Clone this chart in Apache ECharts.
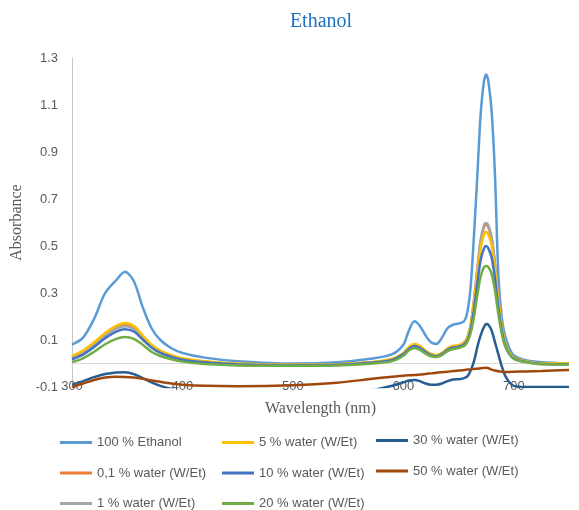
<!DOCTYPE html>
<html>
<head>
<meta charset="utf-8">
<script src="https://cdn.jsdelivr.net/npm/echarts@6/dist/echarts.min.js"></script>
<style>
  html, body { margin: 0; padding: 0; background: #fff; }
  #chart { width: 579px; height: 510px; }
</style>
</head>
<body>
<div id="chart"></div>
<script>
// Wavelength grid (nm), shared by every spectrum
const wavelengths = [300, 310, 320, 330, 340, 348, 356, 364, 372, 380, 390, 400, 420, 450, 500, 540, 570, 590, 600, 605, 610, 615, 620, 625, 630, 635, 640, 645, 650, 655, 658, 661, 664, 667, 670, 673, 675, 677, 680, 683, 686, 689, 692, 696, 700, 710, 725, 750];

// Absorbance spectra
const ethanol100 = [0.08, 0.11, 0.19, 0.30, 0.355, 0.39, 0.35, 0.24, 0.15, 0.10, 0.065, 0.045, 0.025, 0.01, 0.0, 0.005, 0.02, 0.04, 0.08, 0.14, 0.18, 0.16, 0.12, 0.09, 0.083, 0.11, 0.15, 0.165, 0.17, 0.18, 0.22, 0.33, 0.55, 0.80, 1.06, 1.20, 1.23, 1.20, 1.07, 0.80, 0.38, 0.20, 0.12, 0.065, 0.035, 0.015, 0.005, 0.0];
const water01 = [0.025, 0.048, 0.085, 0.125, 0.155, 0.165, 0.153, 0.115, 0.076, 0.052, 0.033, 0.02, 0.008, -0.002, -0.006, -0.004, 0.004, 0.018, 0.043, 0.067, 0.08, 0.072, 0.053, 0.04, 0.034, 0.043, 0.063, 0.073, 0.076, 0.09, 0.11, 0.165, 0.27, 0.40, 0.52, 0.58, 0.59, 0.58, 0.53, 0.42, 0.28, 0.165, 0.09, 0.045, 0.025, 0.01, 0.0, 0.0];
const water1 = [0.022, 0.045, 0.08, 0.12, 0.148, 0.158, 0.147, 0.11, 0.073, 0.05, 0.031, 0.019, 0.007, -0.003, -0.006, -0.004, 0.004, 0.017, 0.042, 0.065, 0.078, 0.07, 0.052, 0.039, 0.033, 0.042, 0.062, 0.072, 0.075, 0.088, 0.11, 0.165, 0.27, 0.40, 0.525, 0.588, 0.598, 0.588, 0.535, 0.425, 0.28, 0.165, 0.09, 0.045, 0.025, 0.01, 0.0, -0.002];
const water5 = [0.032, 0.055, 0.09, 0.13, 0.16, 0.172, 0.16, 0.12, 0.08, 0.055, 0.035, 0.022, 0.01, 0.0, -0.005, -0.003, 0.005, 0.02, 0.045, 0.07, 0.083, 0.075, 0.055, 0.042, 0.036, 0.045, 0.065, 0.075, 0.078, 0.09, 0.11, 0.16, 0.26, 0.38, 0.49, 0.55, 0.56, 0.55, 0.50, 0.40, 0.27, 0.16, 0.09, 0.045, 0.025, 0.01, 0.0, 0.0];
const water10 = [0.018, 0.038, 0.07, 0.108, 0.136, 0.146, 0.136, 0.102, 0.068, 0.045, 0.028, 0.016, 0.005, -0.004, -0.007, -0.005, 0.003, 0.015, 0.04, 0.062, 0.075, 0.067, 0.05, 0.036, 0.031, 0.04, 0.058, 0.068, 0.071, 0.082, 0.1, 0.145, 0.23, 0.34, 0.44, 0.49, 0.50, 0.49, 0.45, 0.36, 0.24, 0.145, 0.08, 0.04, 0.022, 0.008, -0.002, -0.003];
const water20 = [0.006, 0.022, 0.05, 0.082, 0.105, 0.113, 0.105, 0.08, 0.05, 0.032, 0.018, 0.008, -0.002, -0.008, -0.01, -0.008, -0.001, 0.01, 0.033, 0.055, 0.066, 0.058, 0.042, 0.031, 0.028, 0.036, 0.053, 0.062, 0.066, 0.075, 0.092, 0.13, 0.2, 0.29, 0.37, 0.41, 0.415, 0.41, 0.38, 0.31, 0.21, 0.13, 0.075, 0.04, 0.02, 0.006, -0.003, -0.004];
const water30 = [-0.09, -0.075, -0.058, -0.045, -0.038, -0.037, -0.045, -0.062, -0.08, -0.095, -0.108, -0.118, -0.13, -0.14, -0.14, -0.135, -0.115, -0.095, -0.08, -0.072, -0.07, -0.075, -0.085, -0.09, -0.09, -0.085, -0.075, -0.068, -0.067, -0.062, -0.055, -0.03, 0.01, 0.07, 0.12, 0.155, 0.168, 0.165, 0.14, 0.09, 0.04, -0.01, -0.05, -0.08, -0.095, -0.1, -0.1, -0.1];
const water50 = [-0.1, -0.085, -0.07, -0.06, -0.056, -0.057, -0.06, -0.065, -0.072, -0.078, -0.085, -0.09, -0.095, -0.097, -0.093, -0.082, -0.066, -0.056, -0.052, -0.05, -0.049, -0.047, -0.045, -0.042, -0.039, -0.037, -0.035, -0.032, -0.03, -0.028, -0.026, -0.025, -0.023, -0.022, -0.02, -0.019, -0.018, -0.02, -0.026, -0.03, -0.033, -0.035, -0.036, -0.036, -0.035, -0.034, -0.032, -0.028];

const seriesNames = ['100 % Ethanol', '0,1 % water (W/Et)', '1 % water (W/Et)', '5 % water (W/Et)', '10 % water (W/Et)', '20 % water (W/Et)', '30 % water (W/Et)', '50 % water (W/Et)'];
const seriesValues = [ethanol100, water01, water1, water5, water10, water20, water30, water50];
const seriesColors = ['#5B9BD5', '#ED7D31', '#A5A5A5', '#FFC000', '#4472C4', '#70AD47', '#255E91', '#9E480E'];

const xTicks = [300, 400, 500, 600, 700];
const yTicks = [-0.1, 0.1, 0.3, 0.5, 0.7, 0.9, 1.1, 1.3];

const labelFont = { color: '#595959', fontSize: 13, fontFamily: 'Liberation Sans' };

const chart = echarts.init(document.getElementById('chart'), null, { renderer: 'canvas' });

const series = seriesNames.map((name, i) => ({
  name: name,
  type: 'line',
  symbol: 'none',
  smooth: 0.3,
  clip: true,
  data: wavelengths.map((w, k) => [w, seriesValues[i][k]]),
  lineStyle: { color: seriesColors[i], width: 2.5 },
  itemStyle: { color: seriesColors[i] },
  emphasis: { disabled: true }
}));

const legendBase = {
  orient: 'vertical',
  padding: 0,
  height: 100,
  itemWidth: 32,
  itemHeight: 12,
  itemGap: 17.5,
  textStyle: labelFont,
  icon: 'path://M0,5 L32,5 L32,8 L0,8 Z'
};

chart.setOption({
  animation: false,
  backgroundColor: '#ffffff',
  title: {
    text: 'Ethanol',
    left: 316,
    textAlign: 'center',
    top: 7,
    textStyle: { color: '#2371BD', fontSize: 20, fontWeight: 'normal', fontFamily: 'Liberation Serif' }
  },
  grid: { left: 72, right: 10, top: 58, bottom: 123, containLabel: false },
  xAxis: {
    type: 'value',
    min: 300,
    max: 750,
    interval: 100,
    z: 3,
    name: 'Wavelength (nm)',
    nameLocation: 'middle',
    nameGap: 14,
    nameTextStyle: { color: '#595959', fontSize: 16, fontFamily: 'Liberation Serif' },
    axisLine: { onZero: true, lineStyle: { color: '#d9d9d9', width: 1 } },
    axisTick: { show: false },
    splitLine: { show: false },
    axisLabel: Object.assign({ margin: -7, customValues: xTicks }, labelFont)
  },
  yAxis: {
    type: 'value',
    min: -0.1,
    max: 1.3,
    name: 'Absorbance',
    nameLocation: 'middle',
    nameGap: 46,
    nameTextStyle: { color: '#595959', fontSize: 16, fontFamily: 'Liberation Serif' },
    axisLine: { show: true, lineStyle: { color: '#c8c8c8', width: 1 } },
    axisTick: { show: false },
    splitLine: { show: false },
    axisLabel: Object.assign({ margin: 14, customValues: yTicks, formatter: v => String(Math.round(v * 10) / 10) }, labelFont)
  },
  legend: [
    Object.assign({ left: 60, top: 436, data: seriesNames.slice(0, 3) }, legendBase),
    Object.assign({ left: 222, top: 436, data: seriesNames.slice(3, 6) }, legendBase),
    Object.assign({ left: 376, top: 434, data: seriesNames.slice(6, 8) }, legendBase)
  ],
  series: series
});
</script>
</body>
</html>
